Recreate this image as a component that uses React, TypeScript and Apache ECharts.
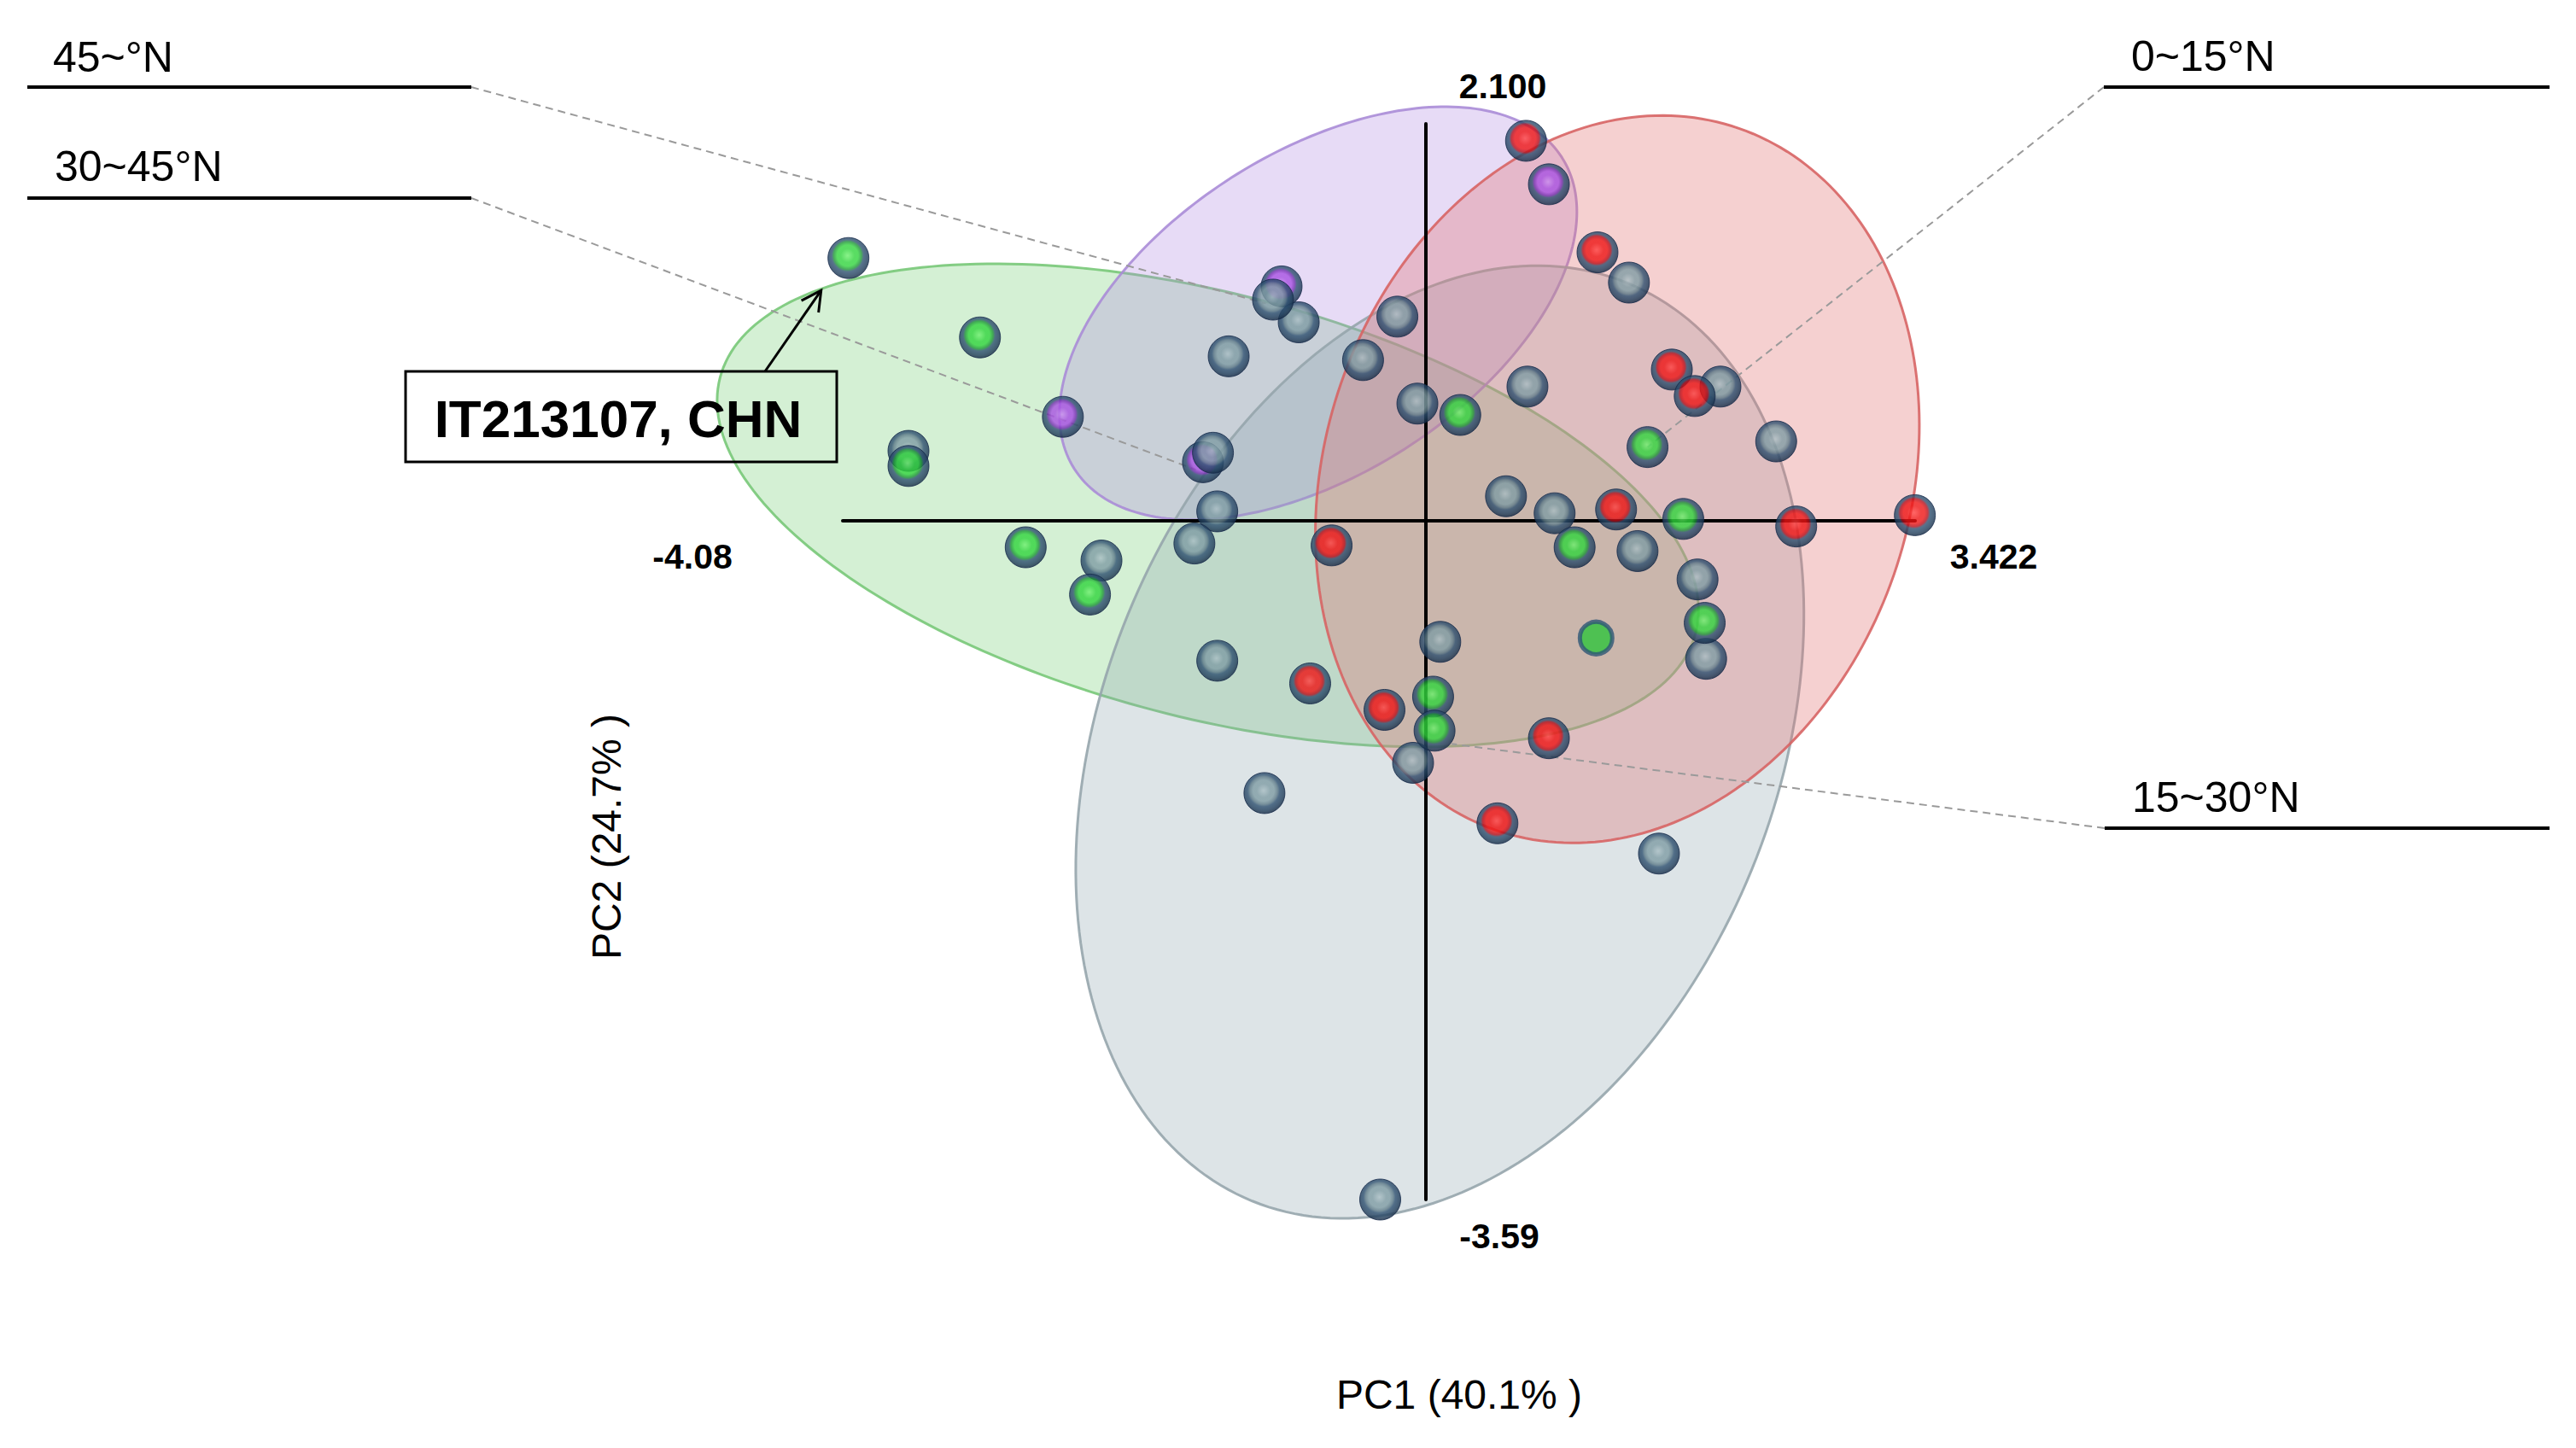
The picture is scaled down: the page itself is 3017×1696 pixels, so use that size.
import React, { useEffect, useRef } from "react";
import * as echarts from "echarts";

// ---------------- data (PC1, PC2 scores) ----------------
const redPC1 = [0.7, 1.2, 1.72, 1.88, 1.33, 2.59, 3.42, -0.66, -0.81, -0.29, 0.86, 0.5];
const redPC2 = [2.01, 1.42, 0.8, 0.66, 0.06, -0.03, 0.03, -0.13, -0.86, -1.0, -1.15, -1.6];

const purplePC1 = [0.86, -1.01, -2.54, -1.56];
const purplePC2 = [1.78, 1.24, 0.55, 0.31];

const greenPC1 = [-4.04, -3.12, -3.62, -2.8, -2.35, 0.24, 1.55, 1.04, 1.8, 1.95, 0.05, 0.06];
const greenPC2 = [1.39, 0.97, 0.29, -0.14, -0.39, 0.56, 0.39, -0.14, 0.01, -0.54, -0.93, -1.11];

const flatGreenPC1 = [1.19];
const flatGreenPC2 = [-0.62];

const greyPC1 = [1.42, -0.2, -0.89, -1.07, -1.38, -0.44, -0.06, 0.71, 2.06, 2.45, -1.49, 0.56, 0.9, -1.46, -1.62, -2.27, 1.48, 1.9, 1.96, 0.1, -1.46, -0.09, -1.13, 1.63, -0.32, -3.62];
const greyPC2 = [1.26, 1.08, 1.05, 1.17, 0.87, 0.85, 0.62, 0.71, 0.71, 0.42, 0.36, 0.13, 0.04, 0.05, -0.12, -0.21, -0.16, -0.31, -0.73, -0.64, -0.74, -1.28, -1.44, -1.76, -3.59, 0.37];

// axis extents and their labels
const xMin = -4.08;
const xMax = 3.422;
const yMin = -3.59;
const yMax = 2.1;
const xTickLabels = ["-4.08", "3.422"];
const yTickLabels = ["2.100", "-3.59"];

// group ellipses (centre + two conjugate semi-axis vectors, in PC units)
const ellipseNames = ["30~45°N", "45~°N", "15~30°N", "0~15°N"];
const ellipseCX = [-1.526, -0.754, 0.097, 1.339];
const ellipseCY = [0.082, 1.098, -1.17, 0.22];
const ellipseU = [[3.412, -0.676], [1.705, 0.824], [1.312, 2.428], [0.85, 1.856]];
const ellipseV = [[-0.376, -1.084], [0.607, -0.717], [2.183, -0.673], [1.934, -0.506]];

// callouts
const calloutLabels = ["45~°N", "30~45°N", "0~15°N", "15~30°N"];
const calloutTargetPC1 = [-1.12, -1.61, 1.55, 0.18];
const calloutTargetPC2 = [1.15, 0.27, 0.39, -1.18];
const highlightedAccession = "IT213107, CHN";
const axisTitleX = "PC1 (40.1% )";
const axisTitleY = "PC2 (24.7% )";

// ---------------- styles ----------------
const FONT = "'Liberation Sans', Arial, Helvetica, sans-serif";
const ellipseFill = ["rgba(112,204,112,0.30)", "rgba(176,136,224,0.30)", "rgba(143,165,174,0.30)", "rgba(224,112,112,0.33)"];
const ellipseStroke = ["rgba(120,200,120,0.9)", "rgba(170,140,215,0.9)", "rgba(150,165,172,0.9)", "rgba(215,100,100,0.9)"];

const ball = (hi: string, core: string, coreDark: string) => ({
  type: "radial",
  x: 0.48,
  y: 0.44,
  r: 0.56,
  colorStops: [
    { offset: 0, color: hi },
    { offset: 0.3, color: core },
    { offset: 0.46, color: core },
    { offset: 0.6, color: coreDark },
    { offset: 0.7, color: "#2e5070" },
    { offset: 0.86, color: "#22405e" },
    { offset: 1, color: "#142a44" },
  ],
});
const greyBall = ball("#a9bec4", "#7f9ca4", "#5d7a88");
const redBall = ball("#ff4040", "#ee1414", "#b80d18");
const greenBall = ball("#6cf06c", "#30d43c", "#1c9834");
const purpleBall = ball("#c88af0", "#a852e2", "#7630b2");

const zip = (a: number[], b: number[]) => a.map((v, i) => [v, b[i]]);

export default function App() {
  const ref = useRef<HTMLDivElement>(null);

  useEffect(() => {
    if (!ref.current) return;
    const chart = echarts.init(ref.current, null, { renderer: "svg" });

    const scatterBase = {
      type: "scatter",
      symbolSize: 48,
      z: 3,
      itemStyle: { borderColor: "#15294a", borderWidth: 1 },
      emphasis: { disabled: true },
    };

    const option: any = {
      animation: false,
      backgroundColor: "#ffffff",
      grid: { left: 987, top: 145, width: 1256, height: 1260, containLabel: false },
      xAxis: {
        type: "value",
        min: xMin,
        max: xMax,
        z: 2,
        axisLine: { show: true, onZero: true, lineStyle: { color: "#000", width: 4 } },
        axisTick: { show: false },
        axisLabel: { show: false },
        splitLine: { show: false },
      },
      yAxis: {
        type: "value",
        min: yMin,
        max: yMax,
        z: 2,
        axisLine: { show: true, onZero: true, lineStyle: { color: "#000", width: 4 } },
        axisTick: { show: false },
        axisLabel: { show: false },
        splitLine: { show: false },
      },
      series: [
        {
          type: "custom",
          name: "ellipses",
          z: 1,
          clip: false,
          silent: true,
          data: ellipseNames.map((n, i) => ({ name: n, value: [ellipseCX[i], ellipseCY[i]] })),
          renderItem: (params: any, api: any) => {
            const i = params.dataIndex;
            const pts: number[][] = [];
            const N = 240;
            for (let k = 0; k < N; k++) {
              const t = (k / N) * Math.PI * 2;
              const c = Math.cos(t);
              const s = Math.sin(t);
              pts.push(
                api.coord([
                  ellipseCX[i] + c * ellipseU[i][0] + s * ellipseV[i][0],
                  ellipseCY[i] + c * ellipseU[i][1] + s * ellipseV[i][1],
                ])
              );
            }
            return {
              type: "polygon",
              shape: { points: pts },
              style: { fill: ellipseFill[i], stroke: ellipseStroke[i], lineWidth: 3 },
            };
          },
        },
        { ...scatterBase, name: "45~°N", data: zip(purplePC1, purplePC2), itemStyle: { ...scatterBase.itemStyle, color: purpleBall } },
        { ...scatterBase, name: "15~30°N", data: zip(greyPC1, greyPC2), itemStyle: { ...scatterBase.itemStyle, color: greyBall } },
        { ...scatterBase, name: "30~45°N", data: zip(greenPC1, greenPC2), itemStyle: { ...scatterBase.itemStyle, color: greenBall } },
        {
          type: "scatter",
          name: "30~45°N ",
          z: 3,
          symbolSize: 38,
          data: zip(flatGreenPC1, flatGreenPC2),
          itemStyle: { color: "#2ec43c", borderColor: "#2d5676", borderWidth: 5 },
        },
        { ...scatterBase, name: "0~15°N", data: zip(redPC1, redPC2), itemStyle: { ...scatterBase.itemStyle, color: redBall } },
      ],
    };

    chart.setOption(option);

    const px = (p: number[]) => chart.convertToPixel({ gridIndex: 0 }, p) as number[];

    const graphics: any[] = [];

    // axis end labels, placed from the scale
    const tickSpecs: { p: number[]; text: string; off: number[] }[] = [
      { p: [xMin, 0], text: xTickLabels[0], off: [-176, 42] },
      { p: [xMax, 0], text: xTickLabels[1], off: [92, 42] },
      { p: [0, yMax], text: yTickLabels[0], off: [90, -44] },
      { p: [0, yMin], text: yTickLabels[1], off: [86, 43] },
    ];
    tickSpecs.forEach((t) => {
      const q = px(t.p);
      graphics.push({
        type: "text",
        z: 10,
        x: q[0] + t.off[0],
        y: q[1] + t.off[1],
        style: { text: t.text, fill: "#000", font: `bold 41px ${FONT}`, align: "center", verticalAlign: "middle" },
      });
    });

    // callout layout (label text, underline, dashed leader to a point)
    const calloutText = [
      [62, 67],
      [64, 195],
      [2496, 66],
      [2497, 934],
    ];
    const underline = [
      [32, 102, 552],
      [32, 232, 552],
      [2464, 102, 2986],
      [2465, 970, 2986],
    ];

    calloutLabels.forEach((lab, i) => {
      graphics.push({
        type: "text",
        z: 10,
        x: calloutText[i][0],
        y: calloutText[i][1],
        style: { text: lab, fill: "#000", font: `50px ${FONT}`, verticalAlign: "middle", align: "left" },
      });
      graphics.push({
        type: "line",
        z: 10,
        shape: { x1: underline[i][0], y1: underline[i][1], x2: underline[i][2], y2: underline[i][1] },
        style: { stroke: "#000", lineWidth: 4 },
      });
      const sx = i < 2 ? underline[i][2] : underline[i][0];
      const end = px([calloutTargetPC1[i], calloutTargetPC2[i]]);
      graphics.push({
        type: "line",
        z: 1,
        shape: { x1: sx, y1: underline[i][1], x2: end[0], y2: end[1] },
        style: { stroke: "#9a9a9a", lineWidth: 2, lineDash: [9, 6] },
      });
    });

    // highlighted accession box + arrow
    const it = px([greenPC1[0], greenPC2[0]]);
    const tip = [it[0] - 32, it[1] + 38];
    const start = [896, 435];
    const dx = tip[0] - start[0];
    const dy = tip[1] - start[1];
    const len = Math.hypot(dx, dy);
    const bx = -dx / len;
    const by = -dy / len;
    const ang = (28 * Math.PI) / 180;
    const hl = 26;
    const h1 = [tip[0] + hl * (bx * Math.cos(ang) - by * Math.sin(ang)), tip[1] + hl * (bx * Math.sin(ang) + by * Math.cos(ang))];
    const h2 = [tip[0] + hl * (bx * Math.cos(-ang) - by * Math.sin(-ang)), tip[1] + hl * (bx * Math.sin(-ang) + by * Math.cos(-ang))];

    graphics.push(
      {
        type: "rect",
        z: 10,
        shape: { x: 475, y: 435, width: 505, height: 106 },
        style: { fill: "rgba(0,0,0,0)", stroke: "#000", lineWidth: 3 },
      },
      {
        type: "text",
        z: 10,
        x: 724,
        y: 490,
        style: { text: highlightedAccession, fill: "#000", font: `bold 62px ${FONT}`, align: "center", verticalAlign: "middle" },
      },
      {
        type: "line",
        z: 10,
        shape: { x1: start[0], y1: start[1], x2: tip[0], y2: tip[1] },
        style: { stroke: "#000", lineWidth: 3 },
      },
      {
        type: "polyline",
        z: 10,
        shape: { points: [h1, tip, h2] },
        style: { stroke: "#000", lineWidth: 3, fill: null },
      },
      {
        type: "text",
        z: 10,
        x: 1709,
        y: 1633,
        style: { text: axisTitleX, fill: "#000", font: `48px ${FONT}`, align: "center", verticalAlign: "middle" },
      },
      {
        type: "text",
        z: 10,
        x: 710,
        y: 980,
        rotation: Math.PI / 2,
        style: { text: axisTitleY, fill: "#000", font: `48px ${FONT}`, align: "center", verticalAlign: "middle" },
      }
    );

    chart.setOption({ graphic: graphics });

    return () => chart.dispose();
  }, []);

  return (
    <div
      ref={ref}
      style={{ position: "fixed", left: 0, top: 0, width: 3017, height: 1696, background: "#fff" }}
    />
  );
}
